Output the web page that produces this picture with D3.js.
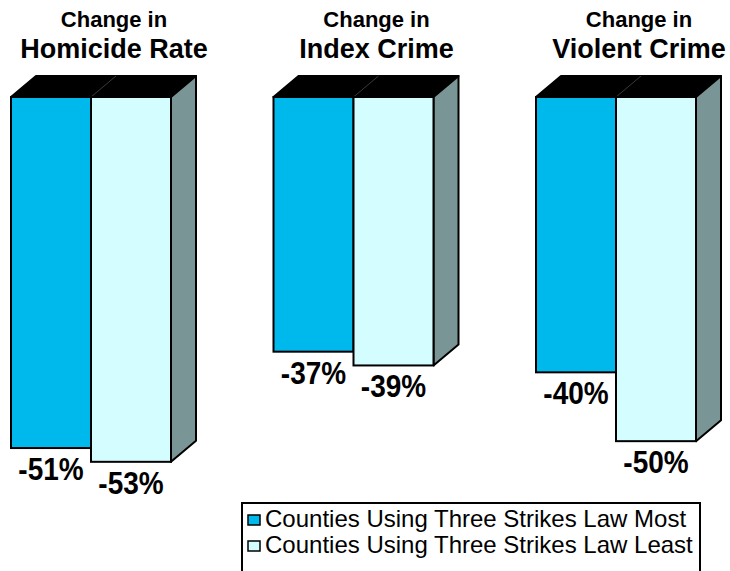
<!DOCTYPE html>
<html>
<head>
<meta charset="utf-8">
<script src="https://cdn.jsdelivr.net/npm/d3@7"></script>
<style>
  body { margin: 0; background: #fff; }
  svg { display: block; font-family: "Liberation Sans", Arial, sans-serif; }
</style>
</head>
<body>
<div id="chart"></div>
<script>
// data
const panels = ["Homicide Rate", "Index Crime", "Violent Crime"]
const series = ["Counties Using Three Strikes Law Most", "Counties Using Three Strikes Law Least"]
const most = [-51, -37, -40]
const least = [-53, -39, -50]
const colors = ["#00b9ec", "#d4fdff"]

const width = 730, height = 571
const depthX = 25, depthY = 21

const svg = d3.select("#chart").append("svg")
    .attr("width", width)
    .attr("height", height)

// panel position and inner bar position
const x0 = d3.scalePoint().domain(panels).range([11, 536])
const x1 = d3.scaleBand().domain(series).range([0, 160])
const y = d3.scaleLinear().domain([0, -60]).range([97, 510])

const rows = panels.map((p, i) => ({panel: p, values: [most[i], least[i]]}))

const g = svg.selectAll(".panel")
    .data(rows)
    .enter().append("g")
    .attr("class", "panel")
    .attr("transform", d => `translate(${x0(d.panel)},0)`)

// top face (at zero line)
g.append("polygon")
    .attr("points", () => {
        const y0 = y(0), w = x1.range()[1]
        return [[0, y0], [w, y0], [w + depthX, y0 - depthY], [depthX, y0 - depthY]].join(" ")
    })
    .attr("fill", "#000")
    .attr("stroke", "#000")
    .attr("stroke-width", 2)
    .attr("stroke-linejoin", "round")

// faint divider on top face
g.append("line")
    .attr("x1", x1(series[1]))
    .attr("y1", y(0))
    .attr("x2", x1(series[1]) + depthX)
    .attr("y2", y(0) - depthY)
    .attr("stroke", "#3a3a3a")
    .attr("stroke-width", 1)

// side face of the right bar
g.append("polygon")
    .attr("points", d => {
        const xr = x1(series[1]) + x1.bandwidth()
        const y0 = y(0), yb = y(d.values[1])
        return [[xr, y0], [xr + depthX, y0 - depthY], [xr + depthX, yb - depthY], [xr, yb]].join(" ")
    })
    .attr("fill", "#7a9595")
    .attr("stroke", "#000")
    .attr("stroke-width", 2)
    .attr("stroke-linejoin", "round")

// front faces
g.selectAll(".bar")
    .data(d => d.values.map((v, i) => ({s: series[i], v: v, c: colors[i]})))
    .enter().append("rect")
    .attr("class", "bar")
    .attr("x", d => x1(d.s))
    .attr("y", y(0))
    .attr("width", x1.bandwidth())
    .attr("height", d => y(d.v) - y(0))
    .attr("fill", d => d.c)
    .attr("stroke", "#000")
    .attr("stroke-width", 2)

// value labels (a bit taller than wide, like the original)
g.selectAll(".val")
    .data(d => d.values.map((v, i) => ({s: series[i], v: v})))
    .enter().append("text")
    .attr("class", "val")
    .attr("transform", d => `translate(${x1(d.s) + x1.bandwidth() / 2},${y(d.v) + 32}) scale(1,1.15)`)
    .attr("text-anchor", "middle")
    .attr("font-size", 28)
    .attr("font-weight", "bold")
    .text(d => d.v + "%")

// titles
g.append("text")
    .attr("x", 103)
    .attr("y", 27)
    .attr("text-anchor", "middle")
    .attr("font-size", 22)
    .attr("font-weight", "bold")
    .text("Change in")

g.append("text")
    .attr("x", 103)
    .attr("y", 58)
    .attr("text-anchor", "middle")
    .attr("font-size", 27)
    .attr("font-weight", "bold")
    .text(d => d.panel)

// legend
const legend = svg.append("g")
legend.append("rect")
    .attr("x", 242).attr("y", 503)
    .attr("width", 458).attr("height", 90)
    .attr("fill", "#fff")
    .attr("stroke", "#000")
    .attr("stroke-width", 2)

const items = legend.selectAll(".item")
    .data(series)
    .enter().append("g")
    .attr("class", "item")
    .attr("transform", (d, i) => `translate(248,${515 + i * 26})`)

items.append("rect")
    .attr("width", 12).attr("height", 10)
    .attr("fill", (d, i) => colors[i])
    .attr("stroke", "#000")
    .attr("stroke-width", 1.5)

items.append("text")
    .attr("x", 17)
    .attr("y", 12)
    .attr("font-size", 24)
    .text(d => d)
</script>
</body>
</html>
